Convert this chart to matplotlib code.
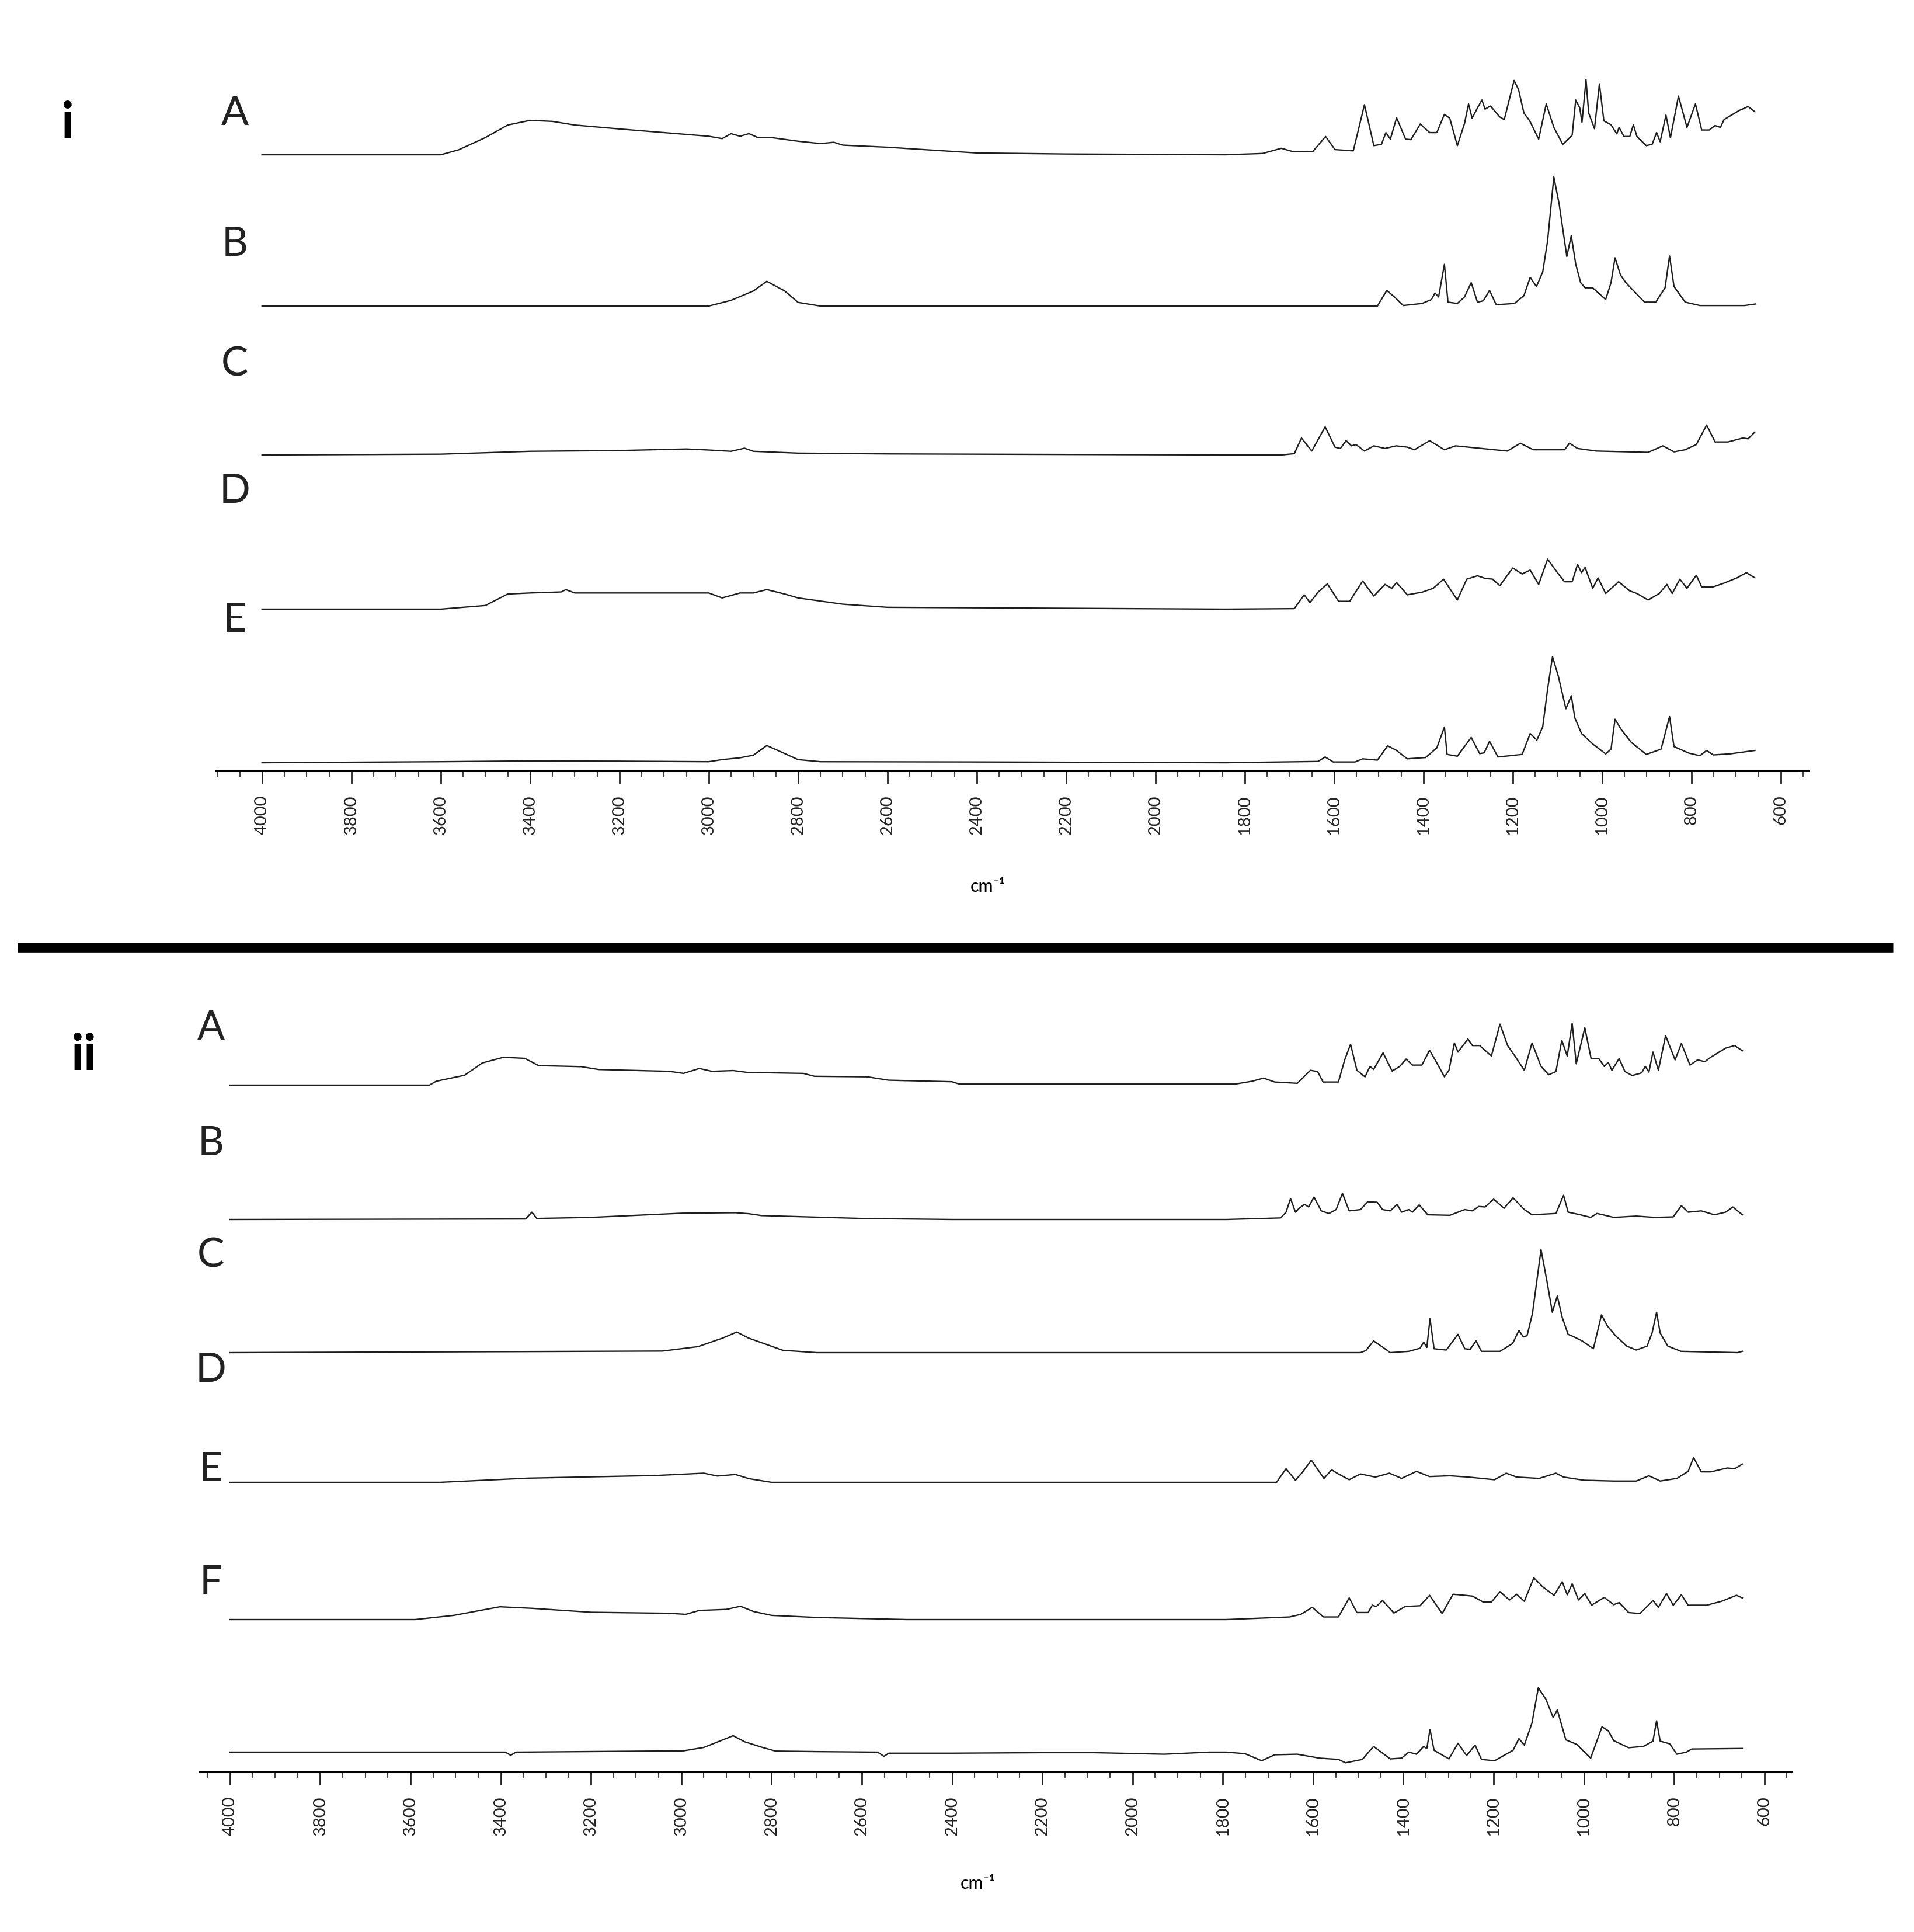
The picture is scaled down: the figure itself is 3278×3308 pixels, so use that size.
import numpy as np
import matplotlib
matplotlib.use("Agg")
import matplotlib.pyplot as plt
from matplotlib.ticker import FixedLocator

plt.rcParams['font.family'] = ['Lato', 'DejaVu Sans']

# ---- spectra: (wavenumber cm-1, relative absorbance, a.u.) ----
I_A = [(4000, 0), (3600, 0), (3560, 19), (3500, 66), (3450, 114), (3400, 132), (3350, 128), (3300, 114),
       (3200, 99), (3100, 85), (3000, 71), (2970, 62), (2950, 81), (2930, 71), (2910, 81), (2890, 66),
       (2860, 66), (2800, 52), (2750, 43), (2720, 48), (2700, 37), (2600, 29), (2400, 7), (2200, 3),
       (1843, 0), (1760, 5), (1718, 25), (1694, 13), (1648, 12), (1619, 70), (1598, 20), (1557, 15),
       (1532, 192), (1511, 35), (1494, 40), (1484, 85), (1474, 60), (1460, 142), (1440, 60), (1428, 58),
       (1407, 118), (1386, 85), (1370, 85), (1353, 155), (1341, 140), (1324, 35), (1308, 120), (1299, 195),
       (1291, 140), (1279, 180), (1269, 210), (1262, 175), (1250, 187), (1229, 145), (1219, 135), (1197, 285),
       (1187, 250), (1175, 160), (1162, 130), (1142, 60), (1125, 195), (1108, 105), (1088, 40), (1067, 75),
       (1059, 210), (1050, 180), (1045, 125), (1036, 288), (1030, 160), (1017, 100), (1006, 272), (996, 130),
       (980, 115), (967, 80), (962, 105), (951, 70), (938, 70), (930, 115), (922, 70), (901, 35), (888, 40),
       (878, 85), (870, 50), (857, 152), (847, 65), (829, 225), (810, 105), (791, 195), (777, 95), (760, 95),
       (747, 112), (735, 105), (727, 135), (693, 170), (673, 185), (658, 165)]
I_B = [(4000, 0), (3000, 0), (2950, 22), (2900, 58), (2870, 95), (2830, 58), (2800, 14), (2750, 0),
       (1503, 0), (1482, 60), (1465, 35), (1445, 2), (1403, 10), (1382, 25), (1374, 50), (1366, 35),
       (1353, 160), (1345, 15), (1324, 10), (1308, 35), (1293, 90), (1279, 15), (1266, 20), (1252, 60),
       (1237, 5), (1196, 10), (1175, 40), (1161, 110), (1147, 75), (1133, 130), (1122, 250), (1108, 495),
       (1096, 390), (1079, 190), (1069, 270), (1059, 160), (1048, 90), (1038, 70), (1021, 70), (992, 25),
       (980, 90), (971, 185), (959, 120), (947, 90), (905, 15), (880, 15), (859, 70), (849, 192), (839, 75),
       (814, 15), (781, 2), (681, 2), (656, 8)]
I_C = [(4000, 0), (3600, 3), (3400, 14), (3200, 17), (3050, 23), (3000, 19), (2950, 14), (2920, 26),
       (2900, 14), (2800, 7), (2600, 4), (1843, 0), (1718, 0), (1689, 5), (1673, 65), (1650, 15), (1620, 108),
       (1598, 30), (1586, 25), (1573, 55), (1561, 35), (1551, 40), (1532, 15), (1511, 35), (1486, 25),
       (1461, 35), (1436, 30), (1420, 20), (1386, 55), (1353, 20), (1328, 35), (1270, 25), (1212, 15),
       (1183, 45), (1154, 20), (1084, 20), (1073, 45), (1055, 25), (1013, 15), (897, 10), (864, 35),
       (839, 12), (814, 20), (789, 40), (766, 115), (747, 50), (718, 50), (685, 65), (673, 62), (658, 88)]
I_D = [(4000, 0), (3600, 0), (3500, 14), (3450, 58), (3400, 62), (3330, 66), (3320, 75), (3300, 62),
       (3000, 62), (2970, 43), (2930, 62), (2900, 62), (2870, 75), (2830, 58), (2800, 43), (2700, 19),
       (2600, 7), (1843, 0), (1689, 2), (1667, 55), (1654, 25), (1636, 65), (1615, 97), (1590, 30),
       (1565, 30), (1536, 108), (1511, 50), (1486, 95), (1471, 80), (1460, 102), (1436, 55), (1403, 65),
       (1378, 80), (1355, 115), (1324, 35), (1303, 115), (1279, 128), (1262, 118), (1245, 115), (1229, 90),
       (1200, 158), (1179, 135), (1161, 150), (1142, 95), (1122, 192), (1100, 140), (1084, 105), (1067, 105),
       (1055, 172), (1046, 140), (1038, 160), (1021, 80), (1009, 120), (992, 60), (963, 105), (938, 70),
       (922, 60), (897, 35), (872, 60), (855, 95), (843, 60), (826, 115), (810, 80), (789, 130), (777, 85),
       (752, 85), (727, 100), (698, 120), (677, 140), (658, 120)]
I_E = [(4000, 0), (3600, 4), (3400, 7), (3200, 6), (3000, 4), (2970, 12), (2930, 19), (2900, 29),
       (2870, 66), (2840, 43), (2800, 12), (2750, 4), (2400, 3), (1843, 0), (1636, 5), (1620, 22),
       (1602, 3), (1553, 3), (1536, 15), (1503, 10), (1480, 65), (1461, 48), (1436, 15), (1395, 20),
       (1370, 57), (1353, 137), (1347, 32), (1324, 25), (1293, 97), (1274, 35), (1264, 38), (1252, 82),
       (1233, 22), (1179, 32), (1161, 112), (1146, 87), (1133, 137), (1122, 282), (1111, 407), (1098, 332),
       (1081, 207), (1069, 257), (1061, 172), (1046, 112), (1021, 72), (992, 34), (980, 52), (971, 167),
       (957, 127), (934, 77), (901, 32), (868, 52), (849, 177), (839, 62), (806, 37), (781, 27), (766, 47),
       (751, 30), (714, 34), (658, 47)]

II_A = [(4000, 0), (3558, 0), (3543, 15), (3480, 38), (3441, 85), (3394, 107), (3347, 103), (3316, 75),
        (3222, 71), (3183, 60), (3026, 53), (2995, 45), (2960, 64), (2932, 53), (2885, 56), (2854, 49),
        (2729, 45), (2705, 34), (2588, 32), (2541, 19), (2400, 13), (2384, 4), (1773, 4), (1735, 15),
        (1710, 27), (1685, 12), (1635, 7), (1606, 57), (1590, 52), (1578, 12), (1544, 12), (1530, 97),
        (1517, 157), (1503, 57), (1485, 32), (1474, 72), (1466, 60), (1445, 124), (1425, 54), (1408, 72),
        (1394, 100), (1380, 77), (1359, 77), (1342, 134), (1328, 92), (1309, 32), (1299, 57), (1287, 162),
        (1279, 127), (1268, 152), (1257, 177), (1247, 152), (1231, 152), (1205, 112), (1186, 234), (1169, 152),
        (1153, 112), (1132, 57), (1115, 162), (1095, 72), (1078, 40), (1062, 52), (1049, 172), (1037, 112),
        (1026, 237), (1017, 82), (998, 220), (984, 102), (967, 102), (955, 72), (946, 87), (938, 57),
        (922, 102), (909, 52), (893, 37), (872, 47), (864, 72), (856, 50), (847, 127), (835, 57), (819, 190),
        (798, 97), (784, 160), (765, 77), (748, 97), (732, 90), (719, 107), (686, 142), (666, 152), (649, 132)]
II_B = [(4000, 0), (3345, 2), (3331, 28), (3320, 4), (3200, 8), (2998, 24), (2880, 26), (2850, 22),
        (2822, 15), (2600, 4), (2400, 0), (1792, 0), (1672, 6), (1660, 28), (1650, 80), (1639, 28),
        (1631, 43), (1619, 58), (1610, 48), (1598, 86), (1582, 33), (1565, 23), (1549, 38), (1535, 100),
        (1520, 33), (1495, 38), (1479, 68), (1458, 66), (1446, 38), (1429, 33), (1414, 58), (1404, 28),
        (1388, 38), (1380, 28), (1365, 56), (1346, 18), (1297, 16), (1264, 38), (1247, 33), (1233, 50),
        (1219, 48), (1200, 78), (1177, 43), (1157, 83), (1132, 38), (1115, 18), (1062, 23), (1045, 93),
        (1035, 28), (1008, 18), (985, 8), (971, 23), (958, 18), (934, 8), (884, 13), (843, 8), (802, 10),
        (784, 53), (769, 28), (740, 33), (711, 18), (686, 28), (670, 48), (649, 18)]
II_C = [(4000, 0), (3042, 6), (2963, 23), (2908, 56), (2877, 79), (2851, 56), (2775, 9), (2700, 0),
        (1495, 0), (1483, 8), (1466, 45), (1445, 20), (1429, 0), (1388, 5), (1363, 17), (1355, 40), (1348, 20),
        (1341, 130), (1332, 15), (1305, 10), (1279, 70), (1264, 15), (1252, 13), (1239, 45), (1227, 5),
        (1186, 5), (1158, 35), (1144, 85), (1134, 60), (1126, 65), (1114, 150), (1095, 395), (1082, 275),
        (1070, 155), (1059, 217), (1048, 135), (1035, 70), (1025, 63), (1004, 45), (979, 15), (961, 145),
        (949, 105), (930, 65), (905, 25), (884, 10), (860, 25), (849, 75), (839, 155), (831, 75), (814, 25),
        (785, 5), (660, 0), (649, 5)]
II_D = [(4000, 0), (3535, 0), (3339, 16), (3057, 26), (2950, 35), (2920, 24), (2880, 30), (2850, 14),
        (2800, 0), (1681, 0), (1660, 52), (1639, 8), (1623, 40), (1604, 85), (1576, 15), (1559, 48),
        (1544, 32), (1520, 10), (1495, 32), (1462, 20), (1431, 35), (1404, 15), (1371, 42), (1342, 22),
        (1297, 25), (1256, 20), (1198, 10), (1172, 35), (1149, 20), (1099, 15), (1062, 35), (1045, 20),
        (1000, 8), (934, 5), (884, 5), (856, 25), (831, 5), (794, 15), (769, 42), (757, 95), (740, 40),
        (719, 40), (682, 55), (666, 52), (649, 70)]
II_E = [(4000, 0), (3590, 0), (3504, 16), (3402, 49), (3330, 43), (3200, 28), (3026, 24), (2990, 20),
        (2960, 35), (2900, 39), (2869, 51), (2840, 31), (2800, 16), (2700, 8), (2500, 0), (1792, 0),
        (1652, 10), (1627, 20), (1602, 47), (1577, 10), (1544, 10), (1520, 83), (1503, 27), (1478, 27),
        (1469, 55), (1460, 50), (1446, 73), (1421, 25), (1396, 50), (1363, 53), (1342, 93), (1314, 23),
        (1290, 97), (1276, 95), (1247, 90), (1223, 67), (1205, 67), (1186, 107), (1165, 75), (1149, 97),
        (1132, 70), (1111, 160), (1091, 125), (1066, 93), (1048, 145), (1037, 95), (1026, 137), (1012, 75),
        (998, 100), (983, 55), (955, 85), (934, 57), (922, 65), (901, 27), (876, 23), (856, 57), (847, 73),
        (835, 47), (817, 100), (802, 55), (784, 95), (769, 55), (728, 55), (695, 70), (662, 93), (649, 83)]
II_F = [(4000, 0), (3390, 0), (3378, -12), (3366, 0), (2995, 5), (2950, 18), (2885, 63), (2860, 40),
        (2820, 18), (2791, 4), (2700, 2), (2565, 0), (2551, -16), (2540, -4), (2400, -4), (2200, -2),
        (2086, -2), (1930, -8), (1830, 0), (1792, 0), (1751, -6), (1714, -33), (1685, -10), (1635, -8),
        (1586, -23), (1544, -28), (1528, -41), (1491, -28), (1466, 22), (1429, -26), (1404, -23), (1388, 0),
        (1371, -8), (1355, 22), (1348, 14), (1341, 87), (1332, 7), (1299, -26), (1279, 34), (1260, -13),
        (1241, 27), (1227, -28), (1198, -33), (1157, 7), (1144, 52), (1132, 27), (1115, 112), (1101, 247),
        (1084, 202), (1068, 132), (1059, 162), (1040, 47), (1016, 30), (985, -23), (960, 97), (946, 82),
        (934, 44), (901, 17), (868, 22), (847, 42), (839, 120), (831, 42), (810, 32), (794, -8), (773, 0),
        (761, 12), (649, 14)]

PANEL_I = [I_A, I_B, I_C, I_D, I_E]
PANEL_II = [II_A, II_B, II_C, II_D, II_E, II_F]
LABELS_I = ['A', 'B', 'C', 'D', 'E']
LABELS_II = ['A', 'B', 'C', 'D', 'E', 'F']

# ---- layout (pixels of the 3278x3308 canvas) ----
W, H = 3278, 3308
SCALE = 2.24  # a.u. per pixel

fig = plt.figure(figsize=(W / 100, H / 100), dpi=100)


def panel(x0, x1, y0, y1, xlim, traces, baselines):
    ax = fig.add_axes([x0 / W, 1 - y1 / H, (x1 - x0) / W, (y1 - y0) / H])
    for pts, base in zip(traces, baselines):
        wn = np.array([p[0] for p in pts])
        h = np.array([p[1] for p in pts])
        ax.plot(wn, base - h / SCALE, color='#1e1e1e', lw=1.7)
    ax.set_xlim(*xlim)
    ax.set_ylim(y1, y0)
    for s in ['top', 'left', 'right']:
        ax.spines[s].set_visible(False)
    ax.spines['bottom'].set_linewidth(2.2)
    ax.set_yticks([])
    ax.xaxis.set_major_locator(FixedLocator(list(range(600, 4001, 200))))
    ax.xaxis.set_minor_locator(FixedLocator([v for v in range(550, 4101, 50) if v % 200]))
    ax.tick_params(axis='x', which='major', length=16, width=2, labelsize=21,
                   labelrotation=90, pad=14, colors='#222222')
    ax.tick_params(axis='x', which='minor', length=8, width=1.5, colors='#444444')
    ax.patch.set_alpha(0)
    return ax


panel(370, 3098, 100, 1320, (4103, 537), PANEL_I, [265, 524, 779, 1043, 1306])
panel(342, 3069, 1700, 3034, (4067, 539), PANEL_II, [1858, 2088, 2316, 2538, 2773, 3000])


def ftext(x, y, s, **kw):
    fig.text(x / W, 1 - y / H, s, ha='center', va='center', **kw)


ftext(116, 212, 'i', fontsize=62, fontweight='bold')
ftext(144, 1808, 'ii', fontsize=62, fontweight='bold')
for lab, y in zip(LABELS_I, [195, 418, 624, 842, 1062]):
    ftext(402, y, lab, fontsize=50, color='#222222')
for lab, y in zip(LABELS_II, [1760, 1958, 2150, 2347, 2517, 2710]):
    ftext(361, y, lab, fontsize=50, color='#222222')
ftext(1692, 1518, 'cm⁻¹', fontsize=22)
ftext(1675, 3225, 'cm⁻¹', fontsize=22)

# separator bar
fig.add_artist(plt.Line2D([30 / W, 3242 / W], [1 - 1622 / H, 1 - 1622 / H], color='black', lw=12,
                          solid_capstyle='butt'))

fig.savefig('out.png', dpi=100, facecolor='white')
